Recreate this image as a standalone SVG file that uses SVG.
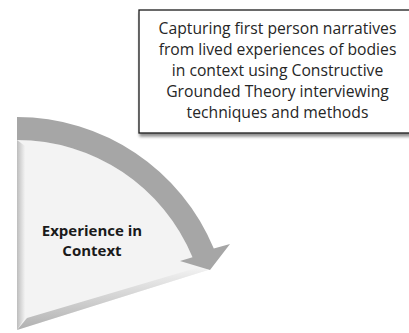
<svg xmlns="http://www.w3.org/2000/svg" width="409" height="333" viewBox="0 0 409 333">
<defs>
<style>
.box{fill:#fff;stroke:#1a1a1a;stroke-width:1.3}
.bt{font-family:"Open Sans","Liberation Sans",Arial,sans-serif;font-size:15.7px;fill:#262626;text-anchor:middle}
.pt{font-family:"Open Sans","Liberation Sans",Arial,sans-serif;font-size:15px;font-weight:bold;fill:#1a1a1a;text-anchor:middle}
.arrow{fill:#a6a6a6}
</style>
<linearGradient id="lb" x1="0" y1="0" x2="1" y2="0">
<stop offset="0" stop-color="#bdbdbd"/>
<stop offset="1" stop-color="#f2f2f2"/>
</linearGradient>
<linearGradient id="bb" x1="0" y1="1" x2="0" y2="0">
<stop offset="0" stop-color="#b0b0b0"/>
<stop offset="1" stop-color="#f2f2f2"/>
</linearGradient>
<filter id="sh" x="-10%" y="-10%" width="130%" height="130%">
<feGaussianBlur in="SourceAlpha" stdDeviation="1.5"/>
<feOffset dx="1" dy="2.5" result="o"/>
<feComponentTransfer><feFuncA type="linear" slope="0.45"/></feComponentTransfer>
<feMerge><feMergeNode/><feMergeNode in="SourceGraphic"/></feMerge>
</filter>
</defs>
<rect width="409" height="333" fill="#fff"/>
<g id="context">
<path d="M17,330 L17,140 A190,190 0 0,1 193.2,258.8 L208,270 Z" fill="#f3f3f3"/>
<path d="M17,330 L17,140 L25,146 L25,318 Z" fill="url(#lb)"/>
<path d="M17,330 L208,270 L196,268 L27,318 Z" fill="url(#bb)"/>
<text class="pt" x="92" y="236">Experience in</text>
<text class="pt" x="92" y="256">Context</text>
</g>
<g id="connectors">
<path class="arrow" d="M17,117 A213,213 0 0,1 213.8,248.5 L230,244 L210,270 L180,261 L192.5,257.3 A190,190 0 0,0 17,140 Z"/>
</g>
<g id="description">
<rect class="box" x="139" y="10" width="275" height="123" filter="url(#sh)"/>
<text class="bt" x="277.5" y="34">Capturing first person narratives</text>
<text class="bt" x="277.5" y="55">from lived experiences of bodies</text>
<text class="bt" x="277.5" y="76">in context using Constructive</text>
<text class="bt" x="277.5" y="97">Grounded Theory interviewing</text>
<text class="bt" x="277.5" y="118">techniques and methods</text>
</g>
</svg>
